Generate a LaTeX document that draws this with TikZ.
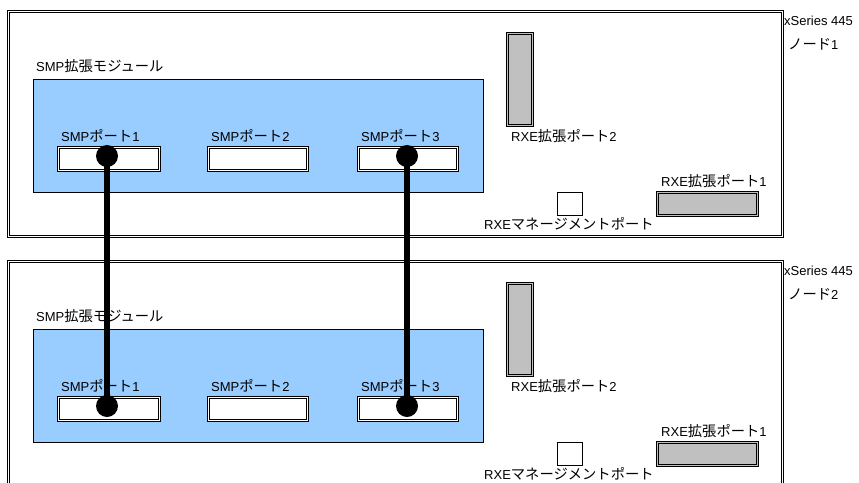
\documentclass[tikz,border=0pt]{standalone}
\usepackage{fontspec}
\setmainfont{Liberation Sans}
\newfontfamily\jpfont[Scale=1.1]{Noto Sans CJK JP}
\newcommand\J[1]{{\jpfont #1}}
\definecolor{modblue}{HTML}{99CCFF}
\definecolor{portgray}{HTML}{C0C0C0}
% double-bordered box: fill, x1, y1, x2, y2 (outer line)
\newcommand\dblbox[5]{%
  \draw[boxline,fill=#1] (#2,#3) rectangle (#4,#5);
  \draw[boxline] (#2+2,#3+2) rectangle (#4-2,#5-2);}
\begin{document}
\begin{tikzpicture}[x=1pt,y=-1pt,
  boxline/.style={draw=black,line width=0.75pt},
  smpmod/.style={draw=black,fill=modblue,line width=0.8pt},
  mgmt/.style={draw=black,fill=white,line width=0.75pt},
  lbl/.style={anchor=base west,inner sep=0pt,font=\fontsize{13}{15}\selectfont},
  dot/.style={circle,fill=black,minimum size=22pt,inner sep=0pt},
  cable/.style={line width=5.5pt,black}]
\useasboundingbox (0,0) rectangle (859,482);
\clip (0,0) rectangle (859,482);
% Node 1
\dblbox{white}{7}{10}{783}{237}
\node[lbl] (x1) at (784,25) {xSeries 445};
\node[lbl] (n1) at (788,49) {\J{ノード}1};
\node[lbl] (m1) at (36,71.5) {SMP\J{拡張モジュール}};
\draw[smpmod] (33,79) rectangle (483,192);
\node[lbl] (p11l) at (61,141) {SMP\J{ポート}1};
\node[lbl] (p12l) at (211,141) {SMP\J{ポート}2};
\node[lbl] (p13l) at (361,141) {SMP\J{ポート}3};
\dblbox{white}{57}{146}{160}{171}
\dblbox{white}{207}{146}{308}{171}
\dblbox{white}{357}{146}{458}{171}
\dblbox{portgray}{506}{32}{533}{126}
\node[lbl] (r12l) at (511,141) {RXE\J{拡張ポート}2};
\node[lbl] (r11l) at (661,186) {RXE\J{拡張ポート}1};
\dblbox{portgray}{656}{191}{758}{216}
\draw[mgmt] (557,192) rectangle (582,215);
\node[lbl] (mg1) at (484,229) {RXE\J{マネージメントポート}};
% Node 2
\dblbox{white}{7}{260}{783}{495}
\node[lbl] (x2) at (784,275) {xSeries 445};
\node[lbl] (n2) at (788,299) {\J{ノード}2};
\node[lbl] (m2) at (36,321.5) {SMP\J{拡張モジュール}};
\draw[smpmod] (33,329) rectangle (483,442);
\node[lbl] (p21l) at (61,391) {SMP\J{ポート}1};
\node[lbl] (p22l) at (211,391) {SMP\J{ポート}2};
\node[lbl] (p23l) at (361,391) {SMP\J{ポート}3};
\dblbox{white}{57}{396}{160}{421}
\dblbox{white}{207}{396}{308}{421}
\dblbox{white}{357}{396}{458}{421}
\dblbox{portgray}{506}{282}{533}{376}
\node[lbl] (r22l) at (511,391) {RXE\J{拡張ポート}2};
\node[lbl] (r21l) at (661,436) {RXE\J{拡張ポート}1};
\dblbox{portgray}{656}{441}{758}{466}
\draw[mgmt] (557,442) rectangle (582,465);
\node[lbl] (mg2) at (484,479) {RXE\J{マネージメントポート}};
% Cables
\node[dot] (d11) at (107,156) {};
\node[dot] (d13) at (407,156) {};
\node[dot] (d21) at (107,406) {};
\node[dot] (d23) at (407,406) {};
\draw[cable] (d11.center) -- (d21.center);
\draw[cable] (d13.center) -- (d23.center);
\end{tikzpicture}
\end{document}
